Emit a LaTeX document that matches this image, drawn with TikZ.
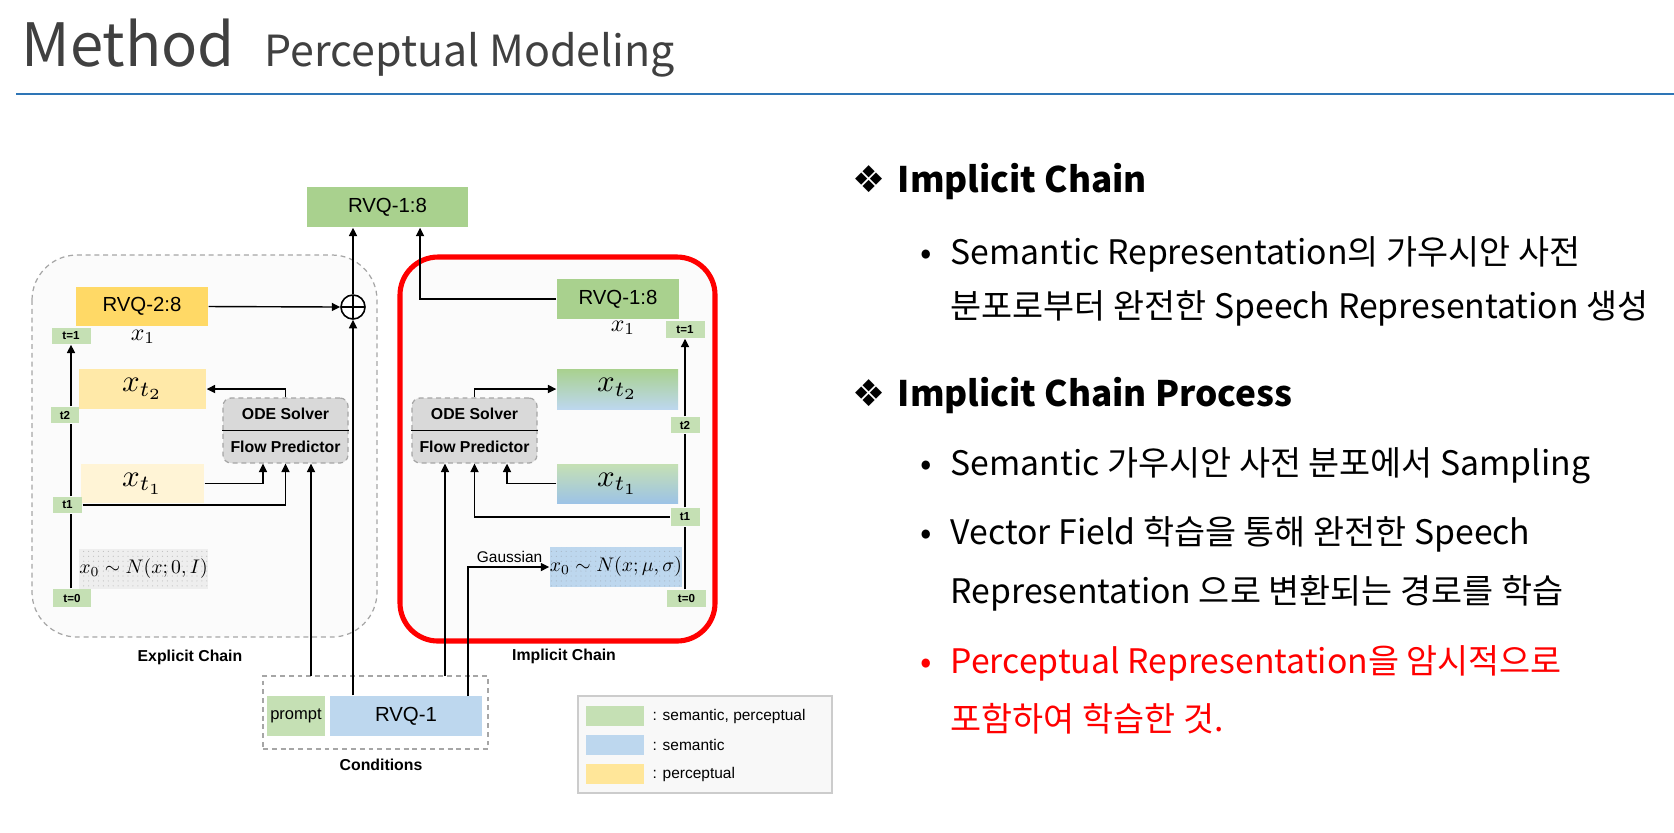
\RequirePackage{fix-cm}
\documentclass[tikz,border=0pt]{standalone}
\usepackage{fontspec}
\usepackage{graphicx}
\usepackage{xcolor}
\usepackage{tikz}
\usetikzlibrary{arrows.meta,patterns.meta}
\newfontfamily\krfont{Noto Sans CJK KR}
\newfontfamily\symfont{DejaVu Sans}
\newfontfamily\helvfont{Liberation Sans}
\newcommand{\shrunkmath}[2]{\scalebox{#1}{$#2$}}
\definecolor{PMTitle}{HTML}{404040}
\definecolor{PMRule}{HTML}{2E75B6}
\definecolor{PMGreen}{HTML}{A9D18E}
\definecolor{PMGreenLt}{HTML}{C5E0B4}
\definecolor{PMGreenMid}{HTML}{B3D6A2}
\definecolor{PMBlue}{HTML}{BDD7EE}
\definecolor{PMBlueDk}{HTML}{9DC3E6}
\definecolor{PMBlueMid}{HTML}{A8CBE6}
\definecolor{PMYellow}{HTML}{FFD966}
\definecolor{PMYellowLt}{HTML}{FFE9A8}
\definecolor{PMYellowPale}{HTML}{FFF4D6}
\definecolor{PMLegYellow}{HTML}{FFE699}
\definecolor{PMGrayBox}{HTML}{EEEEEE}
\definecolor{PMSolver}{HTML}{D9D9D9}
\definecolor{PMDash}{HTML}{A6A6A6}
\definecolor{PMFrame}{HTML}{FBFBFB}
\definecolor{PMLegLine}{HTML}{CCCCCC}
\definecolor{PMLegBg}{HTML}{F8F8F8}
\definecolor{PMRed}{HTML}{FF0000}
\tikzdeclarepattern{
  name=finedots,
  type=uncolored,
  bounding box={(-0.7pt,-0.7pt) and (0.7pt,0.7pt)},
  tile size={(1.4pt,1.4pt)},
  code={\pgfpathcircle{\pgfpointorigin}{0.17pt}\pgfusepath{fill}}
}

\begin{document}
\begin{tikzpicture}[x=0.01cm,y=-0.01cm,
  wh/.style 2 args={minimum width=#1*0.01cm,minimum height=#2*0.01cm},
  blk/.style={rectangle,inner sep=0pt,font=\helvfont\fontsize{5.8}{7}\selectfont},
  tbox/.style={rectangle,inner sep=0pt,fill=PMGreenLt,font=\helvfont\bfseries\fontsize{3.3}{4}\selectfont},
  xbox/.style={rectangle,inner sep=0pt,font=\fontsize{10}{12}\selectfont},
  xsmall/.style={inner sep=0pt,font=\fontsize{10}{12}\selectfont},
  solver/.style={rectangle,draw=PMDash,dash pattern=on 1.4pt off 1.1pt,line width=0.35pt,fill=PMSolver,rounded corners=0.08cm,wh={125}{65}},
  lbl/.style={inner sep=0pt,font=\helvfont\bfseries\fontsize{4.5}{6}\selectfont},
  arr/.style={-{Triangle[length=2.4pt,width=2.3pt]},line width=0.4pt},
  ln/.style={line width=0.4pt},
  swatch/.style={rectangle,inner sep=0pt,wh={58}{20}},
  legtxt/.style={anchor=west,inner sep=0pt,font=\helvfont\fontsize{4.4}{6}\selectfont},
  body/.style={anchor=base west,inner sep=0pt,font=\krfont\fontsize{9.6}{12}\selectfont},
  head/.style={anchor=base west,inner sep=0pt,font=\krfont\bfseries\fontsize{10}{13}\selectfont},
  dmd/.style={anchor=base west,inner sep=0pt,font=\symfont\fontsize{10.5}{12}\selectfont}]
\path[use as bounding box] (0,0) rectangle (1674,832);
\node[anchor=base west,inner sep=0pt,text=PMTitle,font=\krfont\fontsize{17}{19}\selectfont] (ttl) at (21,66) {Method};
\node[anchor=base west,inner sep=0pt,text=PMTitle,font=\krfont\fontsize{12.2}{14}\selectfont] (sub) at (264,66) {Perceptual Modeling};
\draw[PMRule,line width=0.7pt] (16,94) -- (1674,94);
\draw[PMDash,dash pattern=on 1.4pt off 1.1pt,line width=0.35pt,fill=PMFrame,rounded corners=0.45cm] (32,255) rectangle (377,637);
\draw[PMDash,dash pattern=on 1.4pt off 1.1pt,line width=0.35pt,fill=PMFrame,rounded corners=0.38cm] (400,257) rectangle (715,641);
\draw[PMRed,line width=1.45pt,rounded corners=0.38cm] (400,257) rectangle (715,641);
\node[blk,wh={161}{40},fill=PMGreen] (top18) at (387.5,207) {RVQ-1:8};
\node[circle,draw,line width=0.45pt,inner sep=0pt,minimum size=0.24cm,fill=white,
  path picture={\draw[line width=0.45pt] (path picture bounding box.north) -- (path picture bounding box.south)
  (path picture bounding box.west) -- (path picture bounding box.east);}] (plus) at (353,307) {};
\node[blk,wh={132}{39},fill=PMYellow] (rvqa) at (142,306.5) {RVQ-2:8};
\node[xsmall] (xa1) at (143,337) {\shrunkmath{0.68}{x_1}};
\node[tbox,wh={39}{16}] (tea) at (71,336) {t=1};
\node[xbox,wh={127}{40},fill=PMYellowLt] (xta2) at (142.5,389) {\shrunkmath{0.88}{x_{t_2}}};
\node[tbox,wh={28}{16}] (teb) at (65,415) {t2};
\node[solver] (odea) at (285.5,430.5) {};
\node[lbl] (odeaU) at (285.5,414) {ODE Solver};
\node[lbl] (odeaL) at (285.5,447) {Flow Predictor};
\node[xbox,wh={123}{39},fill=PMYellowPale] (xta1) at (142.5,483.5) {\shrunkmath{0.88}{x_{t_1}}};
\node[tbox,wh={29}{16}] (tec) at (67.5,505) {t1};
\node[xbox,wh={125}{40},fill=PMGrayBox,postaction={pattern=finedots,pattern color=black!25}] (xa0) at (143.5,569) {\shrunkmath{0.56}{x_0\sim N(x;0,I)}};
\node[tbox,wh={38}{18}] (ted) at (72,598) {t=0};
\node[lbl] (expl) at (190,657) {Explicit Chain};
\node[blk,wh={122}{40},fill=PMGreen] (rvqb) at (618,299) {RVQ-1:8};
\node[xsmall] (xb1) at (623,328) {\shrunkmath{0.68}{x_1}};
\node[tbox,wh={39}{17}] (tba) at (685,329.5) {t=1};
\node[xbox,wh={121}{40},top color=PMGreen,middle color=PMGreenMid,bottom color=PMBlue] (xtb2) at (617.5,389) {\shrunkmath{0.88}{x_{t_2}}};
\node[tbox,wh={29}{16}] (tbb) at (685,425) {t2};
\node[solver] (odeb) at (474.5,430.5) {};
\node[lbl] (odebU) at (474.5,414) {ODE Solver};
\node[lbl] (odebL) at (474.5,447) {Flow Predictor};
\node[xbox,wh={121}{39},top color=PMGreenLt,middle color=PMBlueMid,bottom color=PMBlueDk] (xtb1) at (617.5,483.5) {\shrunkmath{0.88}{x_{t_1}}};
\node[tbox,wh={29}{18}] (tbc) at (685,517) {t1};
\node[xbox,wh={124}{40},fill=PMBlue,postaction={pattern=finedots,pattern color=PMBlueDk!70!black!60}] (xb0) at (616,567) {\shrunkmath{0.56}{x_0\sim N(x;\mu,\sigma)}};
\node[tbox,wh={39}{17}] (tbd) at (686.5,598.5) {t=0};
\node[anchor=east,inner sep=0pt,font=\helvfont\fontsize{4.4}{5}\selectfont] (gss) at (543,557) {Gaussian};
\node[lbl] (impl) at (564,656) {Implicit Chain};
\node[draw=PMDash,dash pattern=on 1.4pt off 1.1pt,line width=0.35pt,wh={225}{73}] (cond) at (375.5,712.5) {};
\node[blk,wh={58}{40},fill=PMGreenLt,font=\helvfont\fontsize{4.7}{6}\selectfont] (prm) at (296,716) {prompt};
\node[blk,wh={152}{40},fill=PMBlue] (rvq1) at (406,716) {RVQ-1};
\node[lbl] (condl) at (381,765) {Conditions};
\coordinate (cpa) at (311,676);
\coordinate (cpb) at (445,676);
\coordinate (cpc) at (468,696);
\draw[line width=0.4pt] (odea.west) -- (odea.east);
\draw[line width=0.4pt] (odeb.west) -- (odeb.east);
\draw[ln] (ted.north -| tea.south) -- (tec.south -| tea.south);
\draw[ln] (tec.north -| tea.south) -- (teb.south -| tea.south);
\draw[arr] (teb.north -| tea.south) -- (tea.south);
\draw[arr] (xta1.east) -| ([xshift=-0.225cm]odea.south);
\draw[arr] (tec.east) -| (odea.south);
\draw[arr] (odea.north) |- (xta2.east);
\draw[arr] (cpa) -- (cpa |- odea.south);
\draw[arr] (rvqa.east) -- (plus.west);
\draw[arr] (rvq1.north -| plus.south) -- (plus.south);
\draw[arr] (plus.north) -- (top18.south -| plus.north);
\draw[ln] (tbd.north -| tba.south) -- (tbc.south -| tba.south);
\draw[ln] (tbc.north -| tba.south) -- (tbb.south -| tba.south);
\draw[arr] (tbb.north -| tba.south) -- (tba.south);
\draw[arr] (xtb1.west) -| ([xshift=0.325cm]odeb.south);
\draw[arr] (tbc.west) -| (odeb.south);
\draw[arr] (odeb.north) |- (xtb2.west);
\draw[arr] (cpb) -- (cpb |- odeb.south);
\draw[arr] (cpc) |- (xb0.west);
\draw[arr] (rvqb.west) -| ([xshift=0.325cm]top18.south);
\node[draw=PMLegLine,fill=PMLegBg,line width=0.35pt,wh={254}{97}] (leg) at (705,744.5) {};
\node[swatch,fill=PMGreenLt] (swa) at (615,716) {};
\node[swatch,fill=PMBlue] (swb) at (615,745) {};
\node[swatch,fill=PMLegYellow] (swc) at (615,774) {};
\node[legtxt] (lga) at (652,716) {: semantic, perceptual};
\node[legtxt] (lgb) at (652,745) {: semantic};
\node[legtxt] (lgc) at (652,774) {: perceptual};
\node[dmd] (dma) at (852,192) {❖};
\node[head] (hda) at (897,192) {Implicit Chain};
\node[body] (bta) at (920,264) {•};
\node[body] (lna) at (950,264) {Semantic Representation의 가우시안 사전};
\node[body] (lnb) at (950,318) {분포로부터 완전한 Speech Representation 생성};
\node[dmd] (dmb) at (852,406) {❖};
\node[head] (hdb) at (897,406) {Implicit Chain Process};
\node[body] (btb) at (920,475) {•};
\node[body] (lnc) at (950,475) {Semantic 가우시안 사전 분포에서 Sampling};
\node[body] (btc) at (920,544) {•};
\node[body] (lnd) at (950,544) {Vector Field 학습을 통해 완전한 Speech};
\node[body] (lne) at (950,603) {Representation 으로 변환되는 경로를 학습};
\node[body,text=PMRed] (btd) at (920,673) {•};
\node[body,text=PMRed] (lnf) at (950,673) {Perceptual Representation을 암시적으로};
\node[body,text=PMRed] (lng) at (950,731) {포함하여 학습한 것.};
\end{tikzpicture}
\end{document}
